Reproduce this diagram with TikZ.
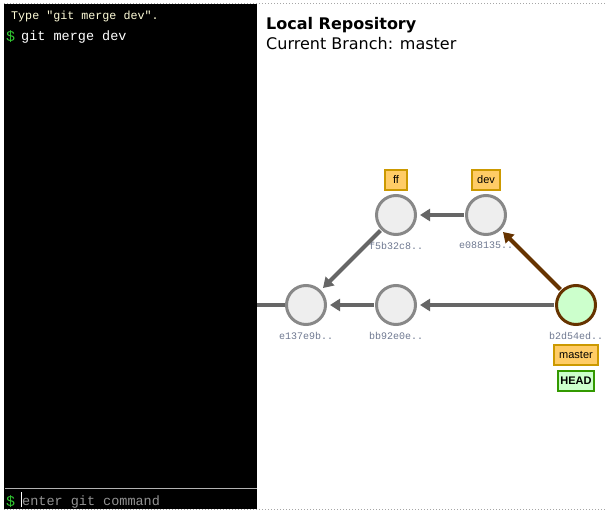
\documentclass[tikz,border=0pt]{standalone}
\usepackage{fontspec}
\setmainfont{DejaVu Sans}
\setsansfont{Liberation Sans}
\setmonofont{Liberation Mono}
\usetikzlibrary{positioning,arrows.meta}
\definecolor{commitfill}{HTML}{EEEEEE}
\definecolor{commitline}{HTML}{888888}
\definecolor{headfill}{HTML}{CCFFCC}
\definecolor{headline}{HTML}{663300}
\definecolor{linkgray}{HTML}{666666}
\definecolor{tagfill}{HTML}{FFCC66}
\definecolor{tagline}{HTML}{CC9900}
\definecolor{headtagline}{HTML}{339900}
\definecolor{hashcol}{HTML}{6E7890}
\definecolor{promptgreen}{HTML}{33CC33}
\tikzset{
  commit/.style={circle, draw=commitline, fill=commitfill, line width=3pt, minimum size=39pt, inner sep=0pt},
  hash/.style={font=\ttfamily\fontsize{10}{10}\selectfont, text=hashcol, inner sep=0pt},
  tag/.style={draw=tagline, fill=tagfill, line width=2pt, font=\sffamily\fontsize{11}{11}\selectfont, inner xsep=5pt, inner ysep=3pt, minimum width=22pt, minimum height=20pt},
  parent/.style={draw=linkgray, line width=4pt, -{Triangle[length=10pt,width=12pt]}, shorten >=3pt, shorten <=1pt},
  term/.style={anchor=base west, inner sep=0pt, font=\ttfamily\fontsize{13.5}{13.5}\selectfont}
}
\begin{document}
\begin{tikzpicture}[x=1pt,y=-1pt]
\useasboundingbox (0,0) rectangle (607,513);
% frame and console
\draw[gray!70, dotted, line width=1pt] (4,4) -- (607,4) (4,509) -- (607,509);
\fill[black] (4,4) rectangle (257,509);
\draw[gray!60, line width=1pt] (5,488) -- (257,488);
\node[term, font=\ttfamily\fontsize{11.7}{11.7}\selectfont, text=white!85!yellow] (hint) at (11,20) {Type "git merge dev".};
\node[term, text=promptgreen, font=\ttfamily\fontsize{15}{15}\selectfont] (prompt) at (6,42) {\$};
\node[term, text=white] (cmd) at (21,41) {git merge dev};
\node[term, text=promptgreen, font=\ttfamily\fontsize{15}{15}\selectfont] (prompt2) at (6,506) {\$};
\draw[white, line width=1pt] (21,492) -- (21,507);
\node[term, text=gray!85] (input) at (22,505) {enter git command};
% title
\node[anchor=base west, inner sep=0pt, font=\bfseries\fontsize{16}{16}\selectfont] (title) at (266,30) {Local Repository};
\node[anchor=base west, inner sep=0pt, font=\fontsize{16}{16}\selectfont] (branch) at (266,50) {Current Branch: master};
% commits
\node[commit] (e137) at (306,305) {};
\node[commit] (bb92) at (396,305) {};
\node[commit] (f5b3) at (396,215) {};
\node[commit] (e088) at (486,215) {};
\node[commit, draw=headline, fill=headfill] (b2d5) at (576,305) {};
\node[hash, below=6pt of e137] (e137h) {e137e9b..};
\node[hash, below=6pt of bb92] (bb92h) {bb92e0e..};
\node[hash, below=6pt of f5b3] (f5b3h) {f5b32c8..};
\node[hash, below=6pt of e088] (e088h) {e088135..};
\node[hash, below=6pt of b2d5] (b2d5h) {b2d54ed..};
% branches
\node[tag, above=3pt of f5b3] (ff) {ff};
\node[tag, above=3pt of e088] (dev) {dev};
\node[tag, below=4pt of b2d5h] (master) {master};
\node[tag, below=4pt of master, fill=headfill, draw=headtagline, inner xsep=2pt, font=\sffamily\bfseries\fontsize{11}{11}\selectfont] (head) {HEAD};
% links
\coordinate (edge) at (257,305);
\draw[draw=linkgray, line width=4pt] (e137) -- (edge);
\draw[parent] (bb92) -- (e137);
\draw[parent] (b2d5) -- (bb92);
\draw[parent] (e088) -- (f5b3);
\draw[parent] (f5b3) -- (e137);
\draw[parent, draw=headline] (b2d5) -- (e088);
\end{tikzpicture}
\end{document}
